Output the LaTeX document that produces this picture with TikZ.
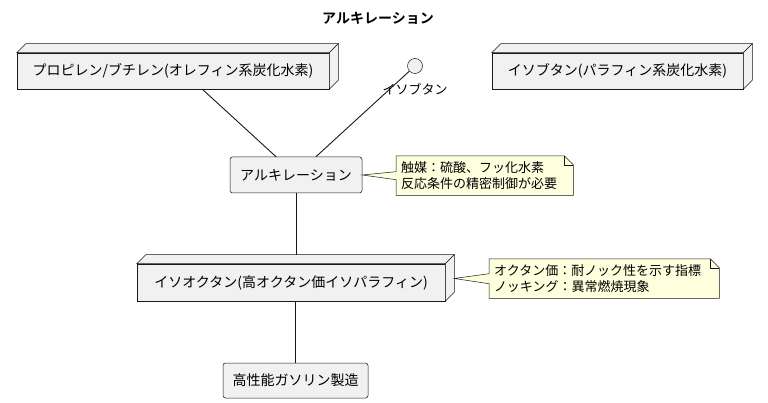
\documentclass[tikz,border=0pt]{standalone}
\usepackage{fontspec}
\setmainfont{Noto Sans CJK JP}[BoldFont={Noto Sans CJK JP Bold}]
\usetikzlibrary{calc}
\definecolor{linec}{HTML}{181818}
\definecolor{boxfill}{HTML}{F1F1F1}
\definecolor{notefill}{HTML}{FEFFDD}
\begin{document}
\begin{tikzpicture}[x=1pt,y=-1pt,
  boxface/.style={draw=linec, fill=boxfill, line width=0.5pt},
  box3d/.style={boxface, minimum height=36pt, inner sep=0pt, font=\fontsize{14}{16}\selectfont},
  rbox/.style={boxface, rounded corners=2.5pt, minimum height=36pt, inner sep=0pt, font=\fontsize{14}{16}\selectfont},
  notetext/.style={inner xsep=5pt, inner ysep=0pt, align=left, anchor=north west, font=\fontsize{13}{15.5}\selectfont},
  noteshape/.style={draw=linec, fill=notefill, line width=0.5pt},
  conn/.style={draw=linec, line width=0.9pt}]
\useasboundingbox (0,0) rectangle (768,403);
\newcommand\boxdepth[1]{%
  \draw[boxface] (#1.north west) -- ++(9,-9) -- ($(#1.north east)+(9,-9)$) -- (#1.north east) -- cycle;
  \draw[boxface] (#1.north east) -- ++(9,-9) -- ($(#1.south east)+(9,-9)$) -- (#1.south east) -- cycle;}
\newcommand\notebody[4]{% name, tipnode/coord, halfwidth of wedge, fold
  \draw[noteshape] (#1.north west) -- ($(#1.north east)+(-#4,0)$) -- ($(#1.north east)+(0,#4)$)
    -- (#1.south east) -- (#1.south west) -- ($(#1.west)+(0,#3)$) -- (#2) -- ($(#1.west)+(0,-#3)$) -- cycle;
  \draw[noteshape, fill=none] ($(#1.north east)+(-#4,0)$) -- ($(#1.north east)+(-#4,#4)$) -- ($(#1.north east)+(0,#4)$);}

% title
\node[font=\bfseries\fontsize{14}{16}\selectfont] (title) at (378,18) {アルキレーション};

% top row
\node[box3d, minimum width=312pt] (n1) at (173,71) {プロピレン/ブチレン(オレフィン系炭化水素)};
\boxdepth{n1}
\node[box3d, minimum width=251pt] (n3) at (617.5,71) {イソブタン(パラフィン系炭化水素)};
\boxdepth{n3}
\node[circle, boxface, minimum size=15pt, inner sep=0pt] (iso) at (415,66) {};
\node[font=\fontsize{13}{15}\selectfont] (isolab) at (415,89) {イソブタン};

% alkylation
\node[rbox, minimum width=132pt] (alk) at (296,175) {アルキレーション};

% isooctane
\node[box3d, minimum width=308pt, minimum height=37pt] (ioc) at (291,282.5) {イソオクタン(高オクタン価イソパラフィン)};
\boxdepth{ioc}

% final
\node[rbox, minimum width=145pt, minimum height=35pt] (fin) at (295.5,380.5) {高性能ガソリン製造};

% connectors
\coordinate (n1c) at ($(n1.center)+(4.5,-4.5)$);
\draw[conn] ($(n1c)!0.2074!(alk.center)$) -- ($(n1c)!0.834!(alk.center)$);
\draw[conn] (iso) -- (alk);
\draw[conn] (alk.south) -- ($(alk.south |- ioc.north)+(0,-9)$);
\draw[conn] (fin.north) -- (fin.north |- ioc.south);

% notes
\coordinate (tip1) at (alk.east);
\node[notetext, text width=167pt, minimum height=39pt] (note1) at (396,156) {};
\coordinate (tip2) at ($(ioc.east)+(9,-4)$);
\node[notetext, text width=220pt, minimum height=39pt] (note2) at (489,259) {};
\notebody{note1}{tip1}{4}{9}
\notebody{note2}{tip2}{5}{9}
\node[notetext, text width=167pt, anchor=west] (note1t) at (note1.west) {触媒：硫酸、フッ化水素\\反応条件の精密制御が必要};
\node[notetext, text width=220pt, anchor=west] (note2t) at (note2.west) {オクタン価：耐ノック性を示す指標\\ノッキング：異常燃焼現象};
\end{tikzpicture}
\end{document}
